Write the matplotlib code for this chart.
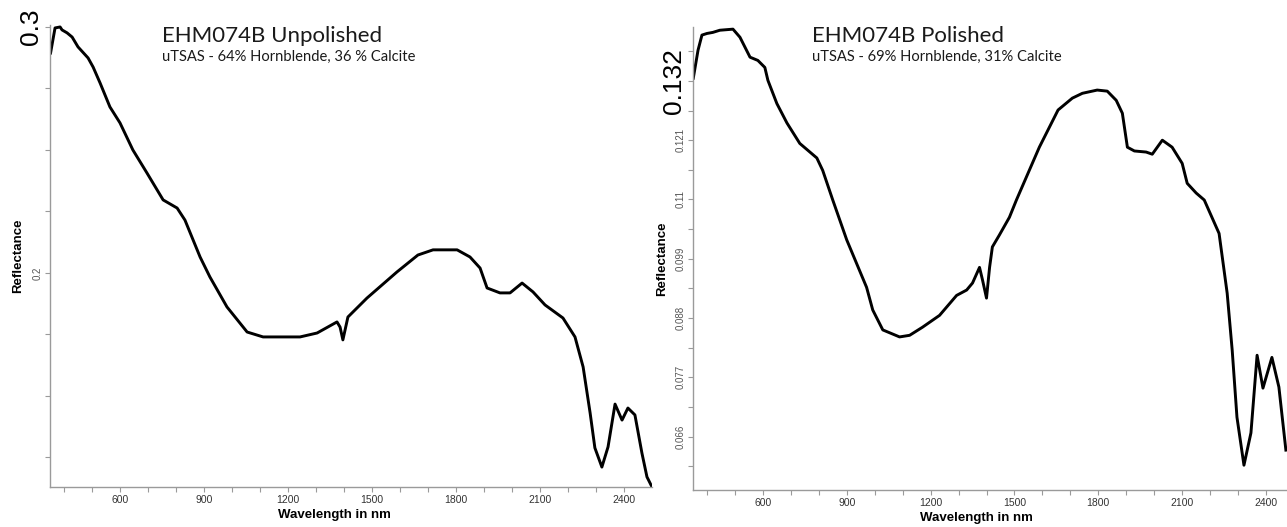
import matplotlib
matplotlib.use("Agg")
import matplotlib.pyplot as plt
import numpy as np

# unpolished spectrum
wl_unpol = [352, 368, 386, 393, 411, 429, 450, 486, 504, 529, 564, 600, 646, 696,
            754, 804, 832, 886, 921, 982, 1054, 1111, 1243, 1304, 1375, 1386, 1396,
            1414, 1482, 1589, 1664, 1718, 1804, 1850, 1886, 1911, 1957, 1993, 2036,
            2075, 2118, 2182, 2225, 2254, 2279, 2296, 2321, 2343, 2368, 2393, 2414,
            2439, 2464, 2482, 2500]
refl_unpol = [0.2894, 0.2996, 0.3000, 0.2988, 0.2976, 0.2959, 0.2919, 0.2874, 0.2837,
              0.2772, 0.2675, 0.2610, 0.2500, 0.2407, 0.2297, 0.2264, 0.2215, 0.2065,
              0.1984, 0.1862, 0.1760, 0.1740, 0.1740, 0.1756, 0.1801, 0.1780, 0.1728,
              0.1821, 0.1898, 0.2004, 0.2073, 0.2094, 0.2094, 0.2065, 0.2020, 0.1939,
              0.1919, 0.1919, 0.1959, 0.1923, 0.1870, 0.1817, 0.1740, 0.1618, 0.1431,
              0.1289, 0.1211, 0.1293, 0.1467, 0.1402, 0.1451, 0.1423, 0.1268, 0.1171,
              0.1130]

# polished spectrum
wl_pol = [351, 368, 382, 400, 421, 446, 493, 518, 554, 582, 607, 618, 650, 686, 732,
          793, 814, 850, 900, 971, 993, 1029, 1089, 1125, 1171, 1232, 1293, 1329, 1350,
          1375, 1386, 1400, 1411, 1421, 1446, 1482, 1507, 1589, 1656, 1707, 1743, 1796,
          1832, 1864, 1886, 1904, 1929, 1971, 1993, 2029, 2064, 2100, 2118, 2150, 2179,
          2232, 2261, 2279, 2296, 2321, 2346, 2368, 2389, 2421, 2446, 2471]
refl_pol = [0.1325, 0.1377, 0.1405, 0.1408, 0.1410, 0.1414, 0.1416, 0.1401, 0.1364,
            0.1358, 0.1345, 0.1321, 0.1278, 0.1242, 0.1204, 0.1177, 0.1154, 0.1099,
            0.1025, 0.0937, 0.0895, 0.0858, 0.0845, 0.0848, 0.0863, 0.0885, 0.0922,
            0.0932, 0.0945, 0.0974, 0.0950, 0.0917, 0.0974, 0.1012, 0.1034, 0.1067,
            0.1099, 0.1197, 0.1266, 0.1288, 0.1297, 0.1303, 0.1301, 0.1284, 0.1260,
            0.1197, 0.1190, 0.1188, 0.1184, 0.1210, 0.1197, 0.1167, 0.1130, 0.1112,
            0.1099, 0.1037, 0.0926, 0.0820, 0.0696, 0.0607, 0.0667, 0.0811, 0.0750,
            0.0807, 0.0752, 0.0635]

x_major = [600, 900, 1200, 1500, 1800, 2100, 2400]
x_minor = list(range(400, 2500, 100))

yt_unpol = [0.125, 0.15, 0.175, 0.2, 0.225, 0.25, 0.275, 0.3]
yl_unpol = ["", "", "", "0.2", "", "", "", "0.3"]
yt_pol = [0.066, 0.077, 0.088, 0.099, 0.11, 0.121, 0.132]
yl_pol = ["0.066", "0.077", "0.088", "0.099", "0.11", "0.121", "0.132"]
yt_pol_minor = [0.0605, 0.0715, 0.0825, 0.0935, 0.1045, 0.1155, 0.1265, 0.1375]

titles = ["EHM074B Unpolished", "EHM074B Polished"]
subtitles = ["uTSAS - 64% Hornblende, 36 % Calcite",
             "uTSAS - 69% Hornblende, 31% Calcite"]

W, H = 1287, 527
fig = plt.figure(figsize=(W / 100, H / 100), dpi=100)


def px_axes(x0, y0, x1, y1):
    return fig.add_axes([x0 / W, 1 - y1 / H, (x1 - x0) / W, (y1 - y0) / H])


def style(ax, xs, ys, yt, yl, big_idx, xlim, ylim, minor_y=None):
    ax.plot(xs, ys, color="black", lw=2.1, solid_joinstyle="round")
    ax.set_xlim(*xlim)
    ax.set_ylim(*ylim)
    for s in ["top", "right"]:
        ax.spines[s].set_visible(False)
    for s in ["left", "bottom"]:
        ax.spines[s].set_color("#9a9a9a")
        ax.spines[s].set_linewidth(1.0)
    ax.set_xticks(x_major)
    ax.set_xticks(x_minor, minor=True)
    ax.set_xticklabels([str(v) for v in x_major], fontsize=7.5, color="#333333",
                       family="Liberation Sans")
    ax.set_yticks(yt)
    ax.set_yticklabels(yl, rotation=90, va="center", fontsize=7, color="#555555",
                       family="Liberation Sans")
    if minor_y is not None:
        ax.set_yticks(minor_y, minor=True)
    ax.tick_params(which="both", direction="out", length=3.5, width=0.8,
                   color="#9a9a9a")
    ax.tick_params(axis="y", pad=1.5)
    ax.tick_params(axis="x", pad=2.5)
    big = ax.yaxis.get_major_ticks()[big_idx].label1
    big.set_fontsize(19)
    big.set_color("black")
    ax.set_xlabel("Wavelength in nm", fontsize=9.5, fontweight="bold",
                  family="Liberation Sans")
    ax.set_ylabel("Reflectance", fontsize=9.5, fontweight="bold",
                  family="Liberation Sans")
    ax.xaxis.label.set_va("center")
    ax.yaxis.label.set_va("center")


ax1 = px_axes(50, 25, 652, 487)
ax2 = px_axes(693, 27, 1287, 490)

style(ax1, wl_unpol, refl_unpol, yt_unpol, yl_unpol, 7, (350, 2500), (0.113, 0.3008))
style(ax2, wl_pol, refl_pol, yt_pol, yl_pol, 6, (350, 2475), (0.0561, 0.1420),
      minor_y=yt_pol_minor)

ax1.xaxis.set_label_coords(0.472, -0.061)
ax1.yaxis.set_label_coords(-0.053, 0.5)
ax2.xaxis.set_label_coords(0.478, -0.060)
ax2.yaxis.set_label_coords(-0.052, 0.5)

for x0, t, st in zip([162, 812], titles, subtitles):
    fig.text(x0 / W, 1 - 42 / H, t, fontsize=16, family="Lato", color="#1a1a1a",
             va="baseline", ha="left")
    fig.text(x0 / W, 1 - 61 / H, st, fontsize=10.6, family="Lato", color="#1a1a1a",
             va="baseline", ha="left")

fig.savefig("out.png", dpi=100)
